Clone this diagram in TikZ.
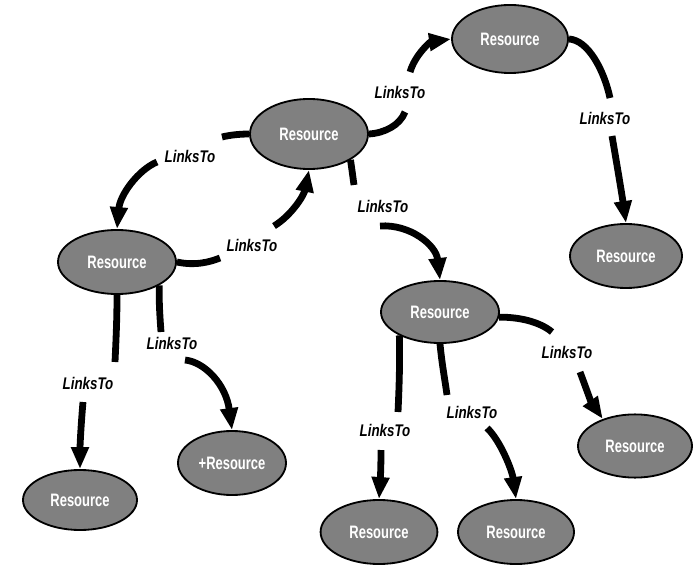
\documentclass[tikz,border=0pt]{standalone}
\usepackage{fontspec}
\setmainfont{Liberation Sans}
\newfontfamily\resfont[FakeStretch=0.72]{Liberation Sans}
\newfontfamily\linkfont[FakeStretch=0.79]{Liberation Sans}
\usetikzlibrary{shapes.geometric,arrows.meta}
\begin{document}
\begin{tikzpicture}[x=0.025cm,y=-0.025cm,
  res/.style={ellipse,draw=black,line width=1.3pt,fill=black!50,text=white,
    inner sep=0pt,font=\resfont\bfseries\fontsize{12.8}{14}\selectfont},
  lbl/.style={font=\linkfont\bfseries\itshape\fontsize{12}{13}\selectfont,inner sep=0pt},
  link/.style={line width=0.17cm},
  linkarrow/.style={link,-{Triangle[length=0.55cm,width=0.42cm]}}]
\useasboundingbox (0,0) rectangle (694,569);

% resources
\node[res,minimum width=2.95cm,minimum height=1.75cm] (R0) at (309,134) {Resource};
\node[res,minimum width=2.9cm,minimum height=1.7cm]   (R1) at (510,39) {Resource};
\node[res,minimum width=2.8cm,minimum height=1.6cm]   (R2) at (626,256) {Resource};
\node[res,minimum width=2.95cm,minimum height=1.6cm]  (RL) at (117,262) {Resource};
\node[res,minimum width=2.95cm,minimum height=1.55cm] (RM) at (440,312) {Resource};
\node[res,minimum width=2.85cm,minimum height=1.5cm]  (RB1) at (80,500) {Resource};
\node[res,minimum width=2.7cm,minimum height=1.6cm]   (P) at (232,463) {+Resource};
\node[res,minimum width=2.85cm,minimum height=1.58cm] (RR) at (635,446) {Resource};
\node[res,minimum width=2.92cm,minimum height=1.6cm]  (RB2) at (379,532) {Resource};
\node[res,minimum width=2.9cm,minimum height=1.6cm]   (RB3) at (516,532) {Resource};

% link labels
\node[lbl] (l1) at (400,92) {LinksTo};
\node[lbl] (l2) at (605,118) {LinksTo};
\node[lbl] (l3) at (190,156) {LinksTo};
\node[lbl] (l4) at (252,245) {LinksTo};
\node[lbl] (l5) at (383,206) {LinksTo};
\node[lbl] (l6) at (88,383) {LinksTo};
\node[lbl] (l7) at (172,343) {LinksTo};
\node[lbl] (l8) at (567,352) {LinksTo};
\node[lbl] (l9) at (385,430) {LinksTo};
\node[lbl] (l10) at (472,412) {LinksTo};

% ends of the connector pieces on either side of each label
\coordinate (a1) at (405,112);  \coordinate (b1) at (410,72);
\coordinate (a2) at (610,98);   \coordinate (b2) at (612,136);
\coordinate (a3) at (222,137);  \coordinate (b3) at (157,162);
\coordinate (a4) at (220,258);  \coordinate (b4) at (274,226);
\coordinate (a5) at (354,185);  \coordinate (b5) at (380,226);
\coordinate (a6) at (115,362);  \coordinate (b6) at (83,402);
\coordinate (a7) at (161,332);  \coordinate (b7) at (185,360);
\coordinate (a8) at (552,332);  \coordinate (b8) at (580,372);
\coordinate (a9) at (398,412);  \coordinate (b9) at (381,450);
\coordinate (a10) at (447,395); \coordinate (b10) at (487,428);

% connectors
\draw[link] (R0.east) .. controls (385,133) and (400,125) .. (a1);
\draw[linkarrow] (b1) .. controls (415,55) and (430,42) .. (R1.west);

\draw[link] (R1.east) .. controls (588,40) and (604,70) .. (a2);
\draw[linkarrow] (b2) .. controls (617,165) and (622,195) .. (R2.north);

\draw[link] (R0.west) .. controls (240,134) and (230,135) .. (a3);
\draw[linkarrow] (b3) .. controls (138,170) and (120,195) .. (RL.north);

\draw[link] (RL.east) .. controls (195,266) and (210,262) .. (a4);
\draw[linkarrow] (b4) .. controls (292,215) and (304,195) .. (R0.south);

\draw[link] (R0.-32) .. controls (352,170) and (353,178) .. (a5);
\draw[linkarrow] (b5) .. controls (410,224) and (436,245) .. (RM.north);

\draw[link] (RL.south) .. controls (117,320) and (116,340) .. (a6);
\draw[linkarrow] (b6) .. controls (81,425) and (80,445) .. (RB1.north);

\draw[link] (RL.-29) .. controls (159,305) and (160,318) .. (a7);
\draw[linkarrow] (b7) .. controls (205,362) and (226,385) .. (P.north);

\draw[link] (RM.-5) .. controls (520,317) and (540,322) .. (a8);
\draw[linkarrow] (b8) .. controls (586,388) and (591,402) .. (RR.140);

\draw[link] (RM.-150) .. controls (400,365) and (399,390) .. (a9);
\draw[linkarrow] (b9) .. controls (381,470) and (380,485) .. (RB2.north);

\draw[link] (RM.south) .. controls (442,365) and (445,380) .. (a10);
\draw[linkarrow] (b10) .. controls (500,440) and (512,470) .. (RB3.north);
\end{tikzpicture}
\end{document}
